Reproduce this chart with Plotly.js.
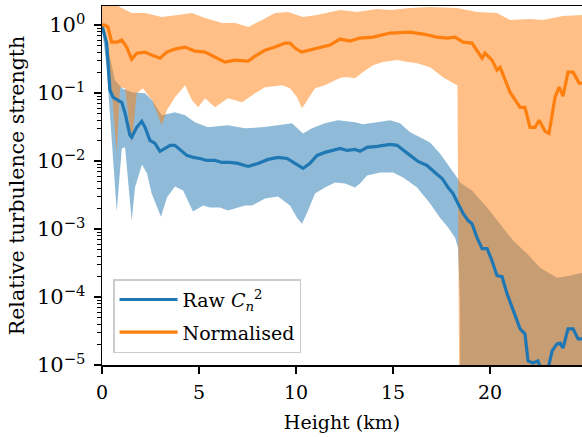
<!DOCTYPE html>
<html><head><meta charset="utf-8">
<script src="https://cdn.plot.ly/plotly-3.0.1.min.js"></script>
<style>html,body{margin:0;padding:0;background:#fff;overflow:hidden}</style>
</head><body><div id="chart" style="width:582px;height:437px"></div>
<script>
// Raw C_n^2 profile (height in km, relative strength)
const rawHeight = [0,0.24,0.41,0.57,0.82,1.02,1.19,1.44,1.53,1.79,2.05,2.22,2.47,2.73,2.99,3.25,3.51,3.76,4.02,4.37,4.71,5.05,5.40,5.82,6.19,6.60,7.01,7.53,8.04,8.56,9.07,9.54,9.95,10.36,10.72,11.08,11.49,11.86,12.27,12.63,13.04,13.30,13.66,14.18,14.85,15.21,15.52,15.88,16.29,16.75,17.16,17.53,17.84,18.09,18.35,18.61,18.87,19.07,19.33,19.59,19.85,20.10,20.36,20.62,20.88,21.19,21.55,21.80,21.96,22.22,22.47,22.73,22.94,23.20,23.45,23.61,23.76,24.02,24.28,24.54,24.74];
const rawValue = [1.0,0.54,0.11,0.0867,0.0783,0.0731,0.0504,0.0239,0.0223,0.0313,0.0384,0.0313,0.0201,0.0182,0.0139,0.0153,0.0170,0.0170,0.0148,0.0121,0.0113,0.0109,0.0102,0.0102,0.00953,0.00953,0.00922,0.00832,0.00922,0.01056,0.0113,0.0109,0.00922,0.00778,0.00922,0.0121,0.0134,0.0143,0.0153,0.0143,0.0148,0.0139,0.0159,0.0164,0.0176,0.0170,0.0143,0.0121,0.00987,0.00861,0.00679,0.00554,0.00408,0.00333,0.00237,0.00169,0.00133,0.00120,0.000747,0.000514,0.000514,0.000342,0.000206,0.000199,0.000111,0.0000625,0.0000340,0.0000286,0.0000115,0.0000107,0.0000115,0.0000069,0.0000076,0.0000161,0.0000204,0.0000210,0.0000178,0.0000340,0.0000340,0.0000242,0.0000242];
const rawUpperHeight = [0,0.15,0.41,0.67,1.03,1.55,2.22,2.58,3.08,3.76,4.28,4.79,5.46,6.49,7.37,8.25,9.07,9.79,10.36,10.82,11.49,12.16,13.04,13.45,14.18,14.85,15.36,15.88,16.39,16.91,17.42,17.94,18.30,18.45,19.07,19.85,20.52,21.19,21.91,22.58,23.45,24.12,24.74];
const rawUpperValue = [1.1,0.712,0.305,0.154,0.118,0.103,0.0993,0.0783,0.0471,0.0521,0.0471,0.0371,0.0313,0.0335,0.0303,0.0313,0.0335,0.0359,0.0255,0.0303,0.0359,0.0397,0.0371,0.0347,0.0371,0.0397,0.0359,0.0264,0.0223,0.0188,0.0129,0.00805,0.00573,0.00483,0.00368,0.00207,0.00120,0.000675,0.000434,0.000270,0.000192,0.000206,0.000228];
const rawLowerHeight = [0,0.24,0.57,0.76,1.02,1.19,1.53,1.70,2.06,2.32,2.56,3.04,3.35,3.76,4.18,4.69,5.21,5.57,6.08,6.49,7.37,7.73,8.40,9.07,9.69,10.05,10.31,10.62,10.98,11.49,12.01,12.53,13.04,13.30,13.66,14.33,15.00,15.52,16.24,16.91,17.42,17.84,18.20,18.35,18.45,18.50,24.74];
const rawLowerValue = [0.9,0.240,0.0102,0.00181,0.0153,0.0159,0.00133,0.00408,0.00891,0.00656,0.00333,0.00152,0.00290,0.00422,0.00368,0.00181,0.00221,0.00207,0.00207,0.00187,0.00221,0.00221,0.00281,0.00301,0.00221,0.00147,0.00120,0.00187,0.00333,0.00408,0.00483,0.00467,0.00408,0.00467,0.00614,0.00679,0.00679,0.00573,0.00408,0.00237,0.00147,0.00105,0.000747,0.000532,0.0000871,1e-8,1e-8];

// Normalised profile
const normHeight = [0,0.15,0.31,0.50,0.76,1.02,1.27,1.53,1.79,2.22,2.56,2.99,3.34,3.76,4.28,4.79,5.31,5.82,6.34,6.86,7.53,7.89,8.40,8.92,9.43,9.69,9.95,10.29,10.72,11.24,11.75,12.27,12.78,13.30,13.97,14.85,15.88,16.55,17.27,17.78,18.20,18.61,19.07,19.59,19.74,20.10,20.36,20.52,21.03,21.55,21.80,22.06,22.32,22.53,22.84,23.04,23.35,23.56,23.76,24.02,24.28,24.59,24.74];
const normValue = [1.0,1.0,0.934,0.561,0.561,0.601,0.474,0.315,0.386,0.400,0.361,0.326,0.400,0.443,0.474,0.414,0.400,0.337,0.285,0.305,0.294,0.349,0.428,0.474,0.543,0.543,0.458,0.400,0.428,0.458,0.507,0.622,0.581,0.643,0.665,0.762,0.788,0.737,0.665,0.643,0.665,0.561,0.543,0.326,0.386,0.305,0.217,0.240,0.103,0.0617,0.0617,0.0313,0.0313,0.0397,0.0273,0.0255,0.0867,0.122,0.0897,0.203,0.203,0.140,0.140];
const normUpperHeight = [0,0.41,1.02,1.53,2.22,3.08,3.92,4.64,5.31,6.19,6.86,7.53,8.25,8.92,9.59,10.36,11.08,12.27,13.14,14.18,14.85,15.88,16.91,18.30,19.33,20.36,21.03,22.06,22.73,23.76,24.74];
const normUpperValue = [2.2,2.2,1.78,1.50,1.50,1.31,1.40,1.50,1.27,1.07,1.07,0.934,1.185,1.50,1.555,1.31,1.40,1.66,1.555,1.72,1.66,1.78,1.84,1.78,1.555,1.50,1.185,1.226,1.185,1.358,1.40];
const normLowerHeight = [0,0.15,0.31,0.52,0.76,0.93,1.19,1.53,1.79,2.11,2.58,3.08,3.34,3.76,4.28,4.64,4.95,5.31,5.82,6.49,7.22,7.89,8.40,9.28,9.69,10.05,10.31,10.62,10.98,11.49,12.01,12.37,12.68,13.04,13.45,13.97,14.48,15.21,15.77,16.24,16.91,17.58,18.09,18.32,18.47,24.74];
const normLowerValue = [0.9,0.601,0.240,0.0993,0.0129,0.122,0.118,0.0182,0.0993,0.118,0.0783,0.0335,0.0557,0.0867,0.130,0.0783,0.0617,0.0838,0.0617,0.0838,0.0731,0.0993,0.122,0.130,0.118,0.0867,0.0597,0.0838,0.118,0.130,0.154,0.171,0.171,0.165,0.203,0.257,0.285,0.305,0.285,0.275,0.240,0.171,0.140,0.130,1e-8,1e-8];

// Tick labels
const xTickVals = [0,5,10,15,20];
const xTickText = ['0','5','10','15','20'];
const yTickVals = [1e-5,1e-4,1e-3,1e-2,1e-1,1];
const yTickText = ['10<sup>−5</sup>','10<sup>−4</sup>','10<sup>−3</sup>','10<sup>−2</sup>','10<sup>−1</sup>','10<sup>0</sup>'];
const seriesNames = ['Raw <i>C</i><sub><i>n</i></sub><sup>2</sup>','Normalised'];

const blue = '#1f77b4', orange = '#ff7f0e';
function band(xu, yu, xl, yl, color) {
  return {
    x: xu.concat(xl.slice().reverse()),
    y: yu.concat(yl.slice().reverse()),
    type: 'scatter', mode: 'lines', fill: 'toself', fillcolor: color,
    line: {width: 0}, hoverinfo: 'skip', showlegend: false
  };
}
const minorVals = [];
for (let k = -5; k <= 0; k++) for (let m = 2; m <= 9; m++) { const v = m * Math.pow(10, k); if (v < 2) minorVals.push(v); }

const traces = [
  band(rawUpperHeight, rawUpperValue, rawLowerHeight, rawLowerValue, 'rgba(31,119,180,0.5)'),
  band(normUpperHeight, normUpperValue, normLowerHeight, normLowerValue, 'rgba(255,127,14,0.5)'),
  {x: rawHeight, y: rawValue, type: 'scatter', mode: 'lines', name: seriesNames[0], legendgroup: 'a', line: {color: blue, width: 3.2}},
  {x: normHeight, y: normValue, type: 'scatter', mode: 'lines', name: seriesNames[1], legendgroup: 'b', line: {color: orange, width: 3.2}}
];
const fontFam = 'DejaVu Serif, serif';
const layout = {
  width: 582, height: 437,
  margin: {l: 102, r: 0, t: 6, b: 72},
  paper_bgcolor: '#fff', plot_bgcolor: '#fff',
  font: {family: fontFam, size: 19, color: '#000'},
  showlegend: true,
  legend: {x: 0.023, y: 0.033, xanchor: 'left', yanchor: 'bottom', bgcolor: 'rgba(255,255,255,0.8)', bordercolor: '#cccccc', borderwidth: 1.5,
    font: {size: 19}, traceorder: 'grouped', tracegroupgap: 5, itemwidth: 58},
  xaxis: {range: [0, 24.74], showline: true, linecolor: '#000', linewidth: 1.5, mirror: true,
    ticks: 'outside', ticklen: 7, tickwidth: 1.2, tickcolor: '#000', ticklabelstandoff: 3,
    tickmode: 'array', tickvals: xTickVals, ticktext: xTickText, showgrid: false, zeroline: false,
    tickfont: {size: 19},
    title: {text: 'Height (km)', font: {size: 19}, standoff: 13}},
  yaxis: {type: 'log', range: [-5, 0.28], showline: true, linecolor: '#000', linewidth: 1.5,
    ticks: 'outside', ticklen: 7, tickwidth: 1.2, tickcolor: '#000', ticklabelstandoff: 4,
    tickmode: 'array', tickvals: yTickVals, ticktext: yTickText, showgrid: false, zeroline: false,
    tickfont: {size: 21},
    minor: {tickmode: 'array', tickvals: minorVals, ticks: 'outside', ticklen: 4, tickwidth: 1, tickcolor: '#000', showgrid: false},
    title: {text: 'Relative turbulence strength', font: {size: 20.5}, standoff: 6}}
};
Plotly.newPlot('chart', traces, layout, {staticPlot: true, displayModeBar: false});
</script>
</body></html>
